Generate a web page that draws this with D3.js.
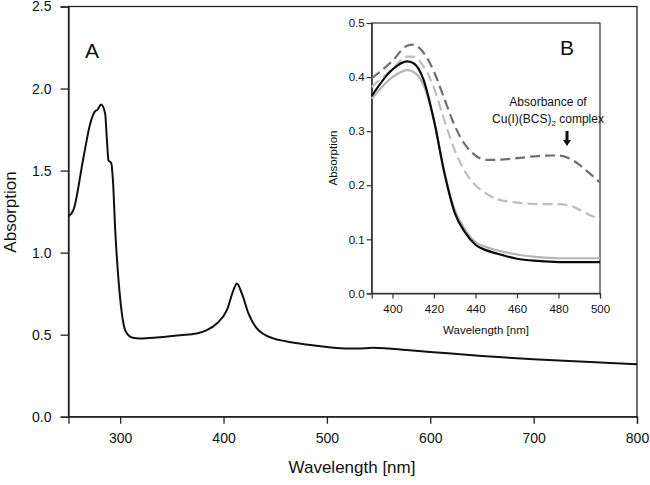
<!DOCTYPE html>
<html><head><meta charset="utf-8">
<script src="https://cdn.jsdelivr.net/npm/d3@7"></script>
<style>body{margin:0;background:#fff}svg{display:block;font-family:"Liberation Sans",Arial,sans-serif}</style>
</head><body><svg id="c" width="650" height="485"></svg>
<script>
// Main spectrum (panel A)
const mainWl  = [250,254.8,264.5,271,275.8,278,281.6,285.5,287,288.7,291.3,293,295.2,298.4,301.6,304.8,311.3,319.3,335.5,358,374,383.8,393.5,403.2,409.6,412.9,417.7,424.1,432.2,448,460,480,500,520,530,545,560,580,600,650,700,750,800];
const mainAbs = [1.22,1.26,1.58,1.786,1.862,1.87,1.903,1.846,1.704,1.562,1.546,1.44,1.136,0.832,0.631,0.528,0.483,0.477,0.483,0.497,0.507,0.528,0.568,0.649,0.771,0.812,0.751,0.629,0.538,0.477,0.46,0.44,0.425,0.415,0.415,0.42,0.415,0.405,0.395,0.37,0.35,0.335,0.32];
const mainXTicks = [300,400,500,600,700,800];
const mainYTicks = [0.0,0.5,1.0,1.5,2.0,2.5];

// Inset (panel B)
const insetWl = [390,400,407,410,415,420,425,430,435,440,445,450,460,470,480,485,490,495,500];
const blackSolid = [0.365,0.414,0.429,0.426,0.395,0.32,0.223,0.149,0.113,0.09,0.08,0.074,0.064,0.06,0.058,0.058,0.058,0.058,0.058];
const graySolid  = [0.36,0.40,0.413,0.41,0.385,0.32,0.225,0.155,0.118,0.095,0.086,0.08,0.072,0.067,0.065,0.065,0.065,0.065,0.065];
const darkDashed = [0.398,0.43,0.458,0.46,0.445,0.41,0.36,0.31,0.275,0.255,0.247,0.247,0.25,0.254,0.255,0.25,0.238,0.222,0.205];
const lightDashed= [0.382,0.415,0.438,0.438,0.42,0.38,0.32,0.265,0.225,0.2,0.185,0.175,0.168,0.165,0.165,0.163,0.155,0.145,0.137];
const insetXTicks = [400,420,440,460,480,500];
const insetYTicks = [0.0,0.1,0.2,0.3,0.4,0.5];

const svg = d3.select("#c");

// ---- main plot
const mx = d3.scaleLinear().domain([250,800]).range([68.5,637]);
const my = d3.scaleLinear().domain([0,2.5]).range([416.7,6.5]);
const g = svg.append("g");
g.append("rect").attr("x",mx(250)).attr("y",my(2.5)).attr("width",mx(800)-mx(250)).attr("height",my(0)-my(2.5))
 .attr("fill","none").attr("stroke","#222").attr("stroke-width",1.3);
const xa = g.append("g").attr("transform",`translate(0,${my(0)})`)
 .call(d3.axisBottom(mx).tickValues(mainXTicks).tickSize(7).tickPadding(9).tickFormat(d3.format("d")));
const ya = g.append("g").attr("transform",`translate(${mx(250)},0)`)
 .call(d3.axisLeft(my).tickValues(mainYTicks).tickSize(8).tickPadding(9).tickFormat(d3.format(".1f")));
[xa,ya].forEach(a=>{a.select(".domain").attr("stroke","#222").attr("stroke-width",1.3);
 a.selectAll(".tick line").attr("stroke","#222").attr("stroke-width",1.3);
 a.selectAll("text").attr("font-size",14).attr("fill","#111").attr("font-family","Liberation Sans, Arial, sans-serif");});
g.append("path").datum(mainWl.map((w,i)=>[w,mainAbs[i]]))
 .attr("d",d3.line().x(d=>mx(d[0])).y(d=>my(d[1])).curve(d3.curveMonotoneX))
 .attr("fill","none").attr("stroke","#111").attr("stroke-width",2);
g.append("text").attr("x",352).attr("y",473).attr("text-anchor","middle").attr("font-size",17).attr("fill","#111").text("Wavelength [nm]");
g.append("text").attr("transform",`translate(16,212) rotate(-90)`).attr("text-anchor","middle").attr("font-size",17).attr("fill","#111").text("Absorption");
g.append("text").attr("x",92).attr("y",58).attr("text-anchor","middle").attr("font-size",21).attr("fill","#111").text("A");

// ---- inset
const ix = d3.scaleLinear().domain([390,500]).range([371.7,600]);
const iy = d3.scaleLinear().domain([0,0.5]).range([293.4,23]);
const ig = svg.append("g");
ig.append("rect").attr("x",ix(390)).attr("y",iy(0.5)).attr("width",ix(500)-ix(390)).attr("height",iy(0)-iy(0.5))
 .attr("fill","#fff").attr("stroke","#333").attr("stroke-width",1.2);
const ixa = ig.append("g").attr("transform",`translate(0,${iy(0)})`)
 .call(d3.axisBottom(ix).tickValues(insetXTicks).tickSize(5).tickPadding(6).tickFormat(d3.format("d")));
const iya = ig.append("g").attr("transform",`translate(${ix(390)},0)`)
 .call(d3.axisLeft(iy).tickValues(insetYTicks).tickSize(5).tickPadding(2).tickFormat(d3.format(".1f")));
[ixa,iya].forEach(a=>{a.select(".domain").attr("stroke","#333").attr("stroke-width",1.2);
 a.selectAll(".tick line").attr("stroke","#333").attr("stroke-width",1.2);
 a.selectAll("text").attr("font-size",11.5).attr("fill","#111").attr("font-family","Liberation Sans, Arial, sans-serif");});
const iline = d3.line().x(d=>ix(d[0])).y(d=>iy(d[1])).curve(d3.curveMonotoneX);
const series = [
 {v:darkDashed, c:"#6f6f6f", dash:"10,5"},
 {v:lightDashed, c:"#bdbdbd", dash:"10,5"},
 {v:graySolid, c:"#b4b4b4", dash:null},
 {v:blackSolid, c:"#0a0a0a", dash:null}
];
series.forEach(s=>{
 ig.append("path").datum(insetWl.map((w,i)=>[w,s.v[i]])).attr("d",iline)
  .attr("fill","none").attr("stroke",s.c).attr("stroke-width",2.2)
  .attr("stroke-dasharray",s.dash);
});
ig.append("text").attr("x",486).attr("y",334).attr("text-anchor","middle").attr("font-size",11.5).attr("fill","#111").text("Wavelength [nm]");
ig.append("text").attr("transform",`translate(337,158) rotate(-90)`).attr("text-anchor","middle").attr("font-size",11.5).attr("fill","#111").text("Absorption");
ig.append("text").attr("x",567).attr("y",55).attr("text-anchor","middle").attr("font-size",21).attr("fill","#111").text("B");
ig.append("text").attr("x",548).attr("y",106).attr("text-anchor","middle").attr("font-size",12).attr("fill","#111").text("Absorbance of");
const t2 = ig.append("text").attr("x",548).attr("y",123).attr("text-anchor","middle").attr("font-size",12).attr("fill","#111");
t2.append("tspan").text("Cu(I)(BCS)");
t2.append("tspan").attr("font-size",8).attr("dy",3).text("2");
t2.append("tspan").attr("dy",-3).text(" complex");
// arrow
ig.append("line").attr("x1",567).attr("x2",567).attr("y1",131).attr("y2",141).attr("stroke","#111").attr("stroke-width",3);
ig.append("path").attr("d","M563,140 L571,140 L567,146 Z").attr("fill","#111");
</script></body></html>
